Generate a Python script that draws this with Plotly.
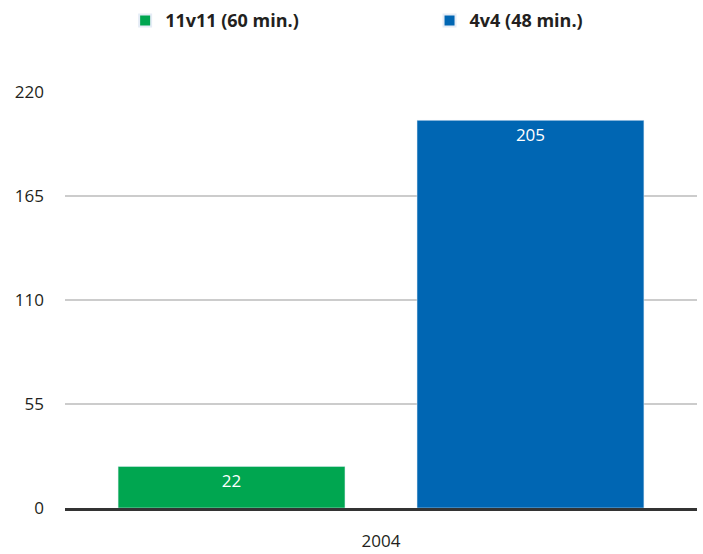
import plotly.graph_objects as go

categories = ["2004"]
series_names = ["11v11 (60 min.)", "4v4 (48 min.)"]
series_values = [[22], [205]]
series_colors = ["#00A650", "#0066B3"]
y_ticks = [0, 55, 110, 165, 220]
legend_ids = ["legend", "legend2"]
legend_x = [0.178, 0.611]

fig = go.Figure()
for name, vals, col, lg in zip(series_names, series_values, series_colors, legend_ids):
    fig.add_trace(go.Bar(
        x=categories, y=vals, name=name, marker_color=col, legend=lg,
        text=[str(v) for v in vals], textposition="inside",
        insidetextanchor="end",
        textfont=dict(color="white", size=17, family="Open Sans"),
    ))

legend_common = dict(orientation="h", xref="container", xanchor="left",
                     yref="container", y=0.996, yanchor="top",
                     font=dict(size=18, family="Open Sans", weight="bold"),
                     itemsizing="constant")

fig.update_layout(
    width=703, height=554,
    margin=dict(l=65, r=6, t=92, b=46, autoexpand=False),
    plot_bgcolor="white", paper_bgcolor="white",
    barmode="group", bargap=0.054, bargroupgap=0.241,
    font=dict(family="Open Sans", size=17, color="#231f20"),
    legend=dict(x=legend_x[0], **legend_common),
    legend2=dict(x=legend_x[1], **legend_common),
    showlegend=True,
)
fig.update_yaxes(range=[0, 220], tickvals=y_ticks, showgrid=True, gridcolor="#cccccc",
                 gridwidth=2, zeroline=False, showline=False, ticks="",
                 ticklabelstandoff=20)
fig.update_xaxes(showline=True, linecolor="#333333", linewidth=2.5, ticks="outside",
                 ticklen=16, tickcolor="rgba(0,0,0,0)")
fig.write_html("out.html", config={"displayModeBar": False},
               post_script="document.body.style.margin='0';")
